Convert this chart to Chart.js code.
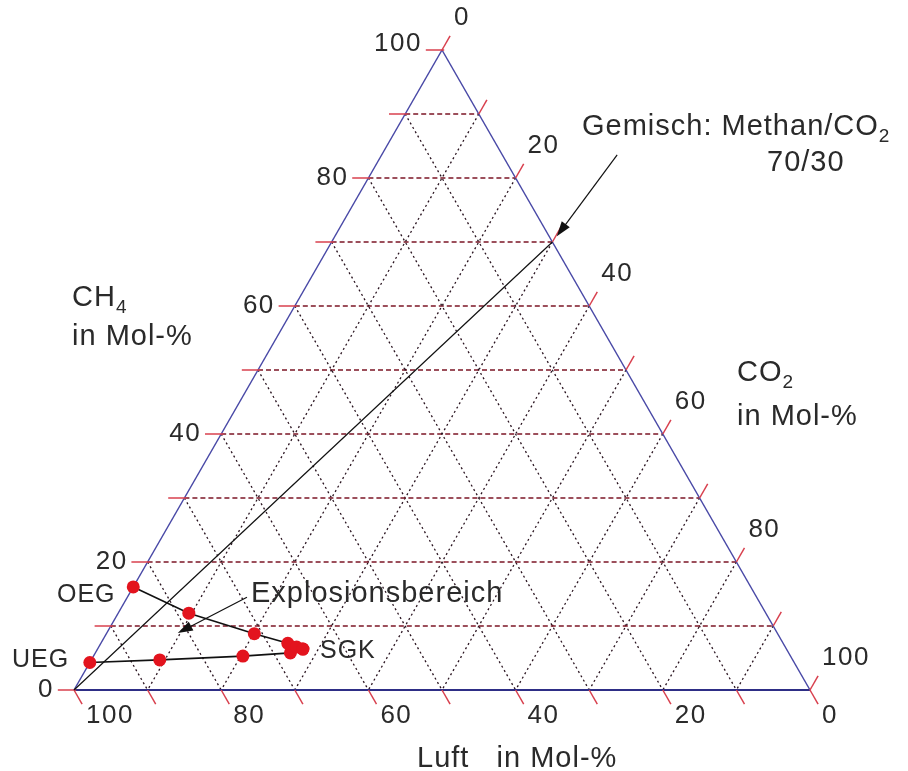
<!DOCTYPE html>
<html>
<head>
<meta charset="utf-8">
<script src="https://cdn.jsdelivr.net/npm/chart.js@4"></script>
<style>
  html, body { margin: 0; padding: 0; background: #fff; }
  #wrap { width: 908px; height: 771px; position: relative; }
</style>
</head>
<body>
<div id="wrap"><canvas id="tern"></canvas></div>
<script>
// Ternary diagram CH4 / CO2 / Luft, drawn on a scatter chart

const tickLevels = [0, 10, 20, 30, 40, 50, 60, 70, 80, 90, 100];
const gridLevels = [10, 20, 30, 40, 50, 60, 70, 80, 90];
const labelLevels = [0, 20, 40, 60, 80, 100];
const ch4TickLabels = ['0', '20', '40', '60', '80', '100'];
const co2TickLabels = ['0', '20', '40', '60', '80', '100'];
const luftTickLabels = ['100', '80', '60', '40', '20', '0'];

// measured mixtures (CH4 %, CO2 %), rest is air
const upperCH4 = [16.1, 12.0, 8.8, 7.3, 6.7, 6.4];
const upperCO2 = [0, 9.6, 20.1, 25.4, 26.9, 27.9];
const lowerCH4 = [4.3, 4.7, 5.3, 5.8, 6.4];
const lowerCO2 = [0, 9.3, 20.3, 26.5, 27.9];
const mixCH4 = [0, 70];
const mixCO2 = [0, 30];

const TICK = 2.2; // tick length in percent units

// (CH4, CO2) -> cartesian, bottom edge 0..100, height 0..100
function tern(c, d) {
  return { x: d + c / 2, y: c };
}

function segment(a, b, color, width, dash, order) {
  return {
    data: [tern(a[0], a[1]), tern(b[0], b[1])],
    showLine: true,
    borderColor: color,
    borderWidth: width,
    borderDash: dash || [],
    pointRadius: 0,
    fill: false,
    clip: false,
    order: order,
  };
}

const datasets = [];

// grid
gridLevels.forEach(v => {
  datasets.push(segment([v, 0], [v, 100 - v], '#7c1626', 1.3, [5, 3], 6));
  datasets.push(segment([100 - v, v], [0, v], '#2a1420', 1.3, [2, 3], 6));
  datasets.push(segment([100 - v, 0], [0, 100 - v], '#2a1420', 1.3, [2, 3], 6));
});

// frame
datasets.push(segment([0, 0], [100, 0], '#4848a6', 1.5, null, 5));
datasets.push(segment([100, 0], [0, 100], '#4848a6', 1.5, null, 5));
datasets.push(segment([0, 0], [0, 100], '#2e2e86', 2, null, 5));

// ticks
tickLevels.forEach(v => {
  datasets.push(segment([v, -TICK], [v, 0.3], '#d8404e', 1.5, null, 4));
  datasets.push(segment([100 - v, v], [100 - v + TICK, v], '#d8404e', 1.5, null, 4));
  datasets.push(segment([0, v], [-TICK, v + TICK], '#d8404e', 1.5, null, 4));
});

// 70/30 mixture line
datasets.push({
  data: mixCH4.map((c, i) => tern(c, mixCO2[i])),
  showLine: true, borderColor: '#111', borderWidth: 1.2,
  pointRadius: 0, clip: false, order: 3,
});

// explosion limits
[[lowerCH4, lowerCO2], [upperCH4, upperCO2]].forEach(([cs, ds], k) => {
  datasets.push({
    data: cs.map((c, i) => tern(c, ds[i])),
    showLine: true,
    borderColor: '#111',
    borderWidth: 1.6,
    pointRadius: 6.5,
    pointBackgroundColor: '#e3141e',
    pointBorderColor: '#e3141e',
    pointBorderWidth: 0,
    clip: false,
    order: 2 - k,
  });
});

const TXT = '#2a2a2a';

function arrow(ctx, x1, y1, x2, y2) {
  const ang = Math.atan2(y2 - y1, x2 - x1);
  const hl = 15, hw = 5;
  ctx.strokeStyle = '#111';
  ctx.fillStyle = '#111';
  ctx.lineWidth = 1.2;
  ctx.beginPath();
  ctx.moveTo(x1, y1);
  ctx.lineTo(x2 - Math.cos(ang) * hl * 0.7, y2 - Math.sin(ang) * hl * 0.7);
  ctx.stroke();
  ctx.beginPath();
  ctx.moveTo(x2, y2);
  ctx.lineTo(x2 - Math.cos(ang) * hl - Math.sin(ang) * hw, y2 - Math.sin(ang) * hl + Math.cos(ang) * hw);
  ctx.lineTo(x2 - Math.cos(ang) * hl + Math.sin(ang) * hw, y2 - Math.sin(ang) * hl - Math.cos(ang) * hw);
  ctx.closePath();
  ctx.fill();
}

function subText(ctx, main, sub, x, y, size) {
  ctx.font = size + 'px "Liberation Sans", Arial, sans-serif';
  ctx.textAlign = 'left';
  ctx.fillText(main, x, y);
  const w = ctx.measureText(main).width;
  ctx.font = Math.round(size * 0.66) + 'px "Liberation Sans", Arial, sans-serif';
  ctx.fillText(sub, x + w, y + 7);
}

const labelPlugin = {
  id: 'ternLabels',
  afterDatasetsDraw(chart) {
    const { ctx, scales } = chart;
    const px = p => ({ x: scales.x.getPixelForValue(p.x), y: scales.y.getPixelForValue(p.y) });
    ctx.save();
    ctx.fillStyle = TXT;
    ctx.letterSpacing = '1.5px';
    ctx.font = '26px "Liberation Sans", Arial, sans-serif';
    ctx.textBaseline = 'middle';

    labelLevels.forEach((v, i) => {
      // CH4, left side
      let p = px(tern(v, 0));
      ctx.textAlign = 'right';
      ctx.fillText(ch4TickLabels[i], p.x - 20, p.y - (v === 100 ? 6 : 0));
      // CO2, right side
      p = px(tern(100 - v, v));
      ctx.textAlign = 'left';
      ctx.fillText(co2TickLabels[i], p.x + 12, p.y - 32);
      // Luft, bottom
      p = px(tern(0, v));
      ctx.fillText(luftTickLabels[i], p.x + 12, p.y + 26);
    });

    ctx.textBaseline = 'alphabetic';
    ctx.letterSpacing = '1px';
    ctx.fillStyle = TXT;
    subText(ctx, 'CH', '4', 72, 306, 29);
    subText(ctx, 'CO', '2', 737, 381, 29);
    ctx.font = '29px "Liberation Sans", Arial, sans-serif';
    ctx.textAlign = 'left';
    ctx.fillText('in Mol-%', 72, 345);
    ctx.fillText('in Mol-%', 737, 425);
    ctx.fillText('Luft   in Mol-%', 417, 767);

    subText(ctx, 'Gemisch: Methan/CO', '2', 582, 135, 29);
    ctx.font = '29px "Liberation Sans", Arial, sans-serif';
    ctx.fillText('70/30', 767, 171);
    ctx.fillText('Explosionsbereich', 251, 602);

    ctx.font = '25px "Liberation Sans", Arial, sans-serif';
    ctx.fillText('OEG', 57, 602);
    ctx.fillText('UEG', 12, 667);
    ctx.fillText('SGK', 320, 658);

    // annotation arrows (positions in chart units)
    const g1 = px({ x: 73.8, y: 83.6 }), g2 = px({ x: 65.6, y: 70.9 });
    arrow(ctx, g1.x, g1.y, g2.x, g2.y);
    const e1 = px({ x: 23.5, y: 14.5 }), e2 = px({ x: 14.1, y: 8.9 });
    arrow(ctx, e1.x, e1.y, e2.x, e2.y);
    ctx.restore();
  },
};

// map chart units to the canvas: bottom-left corner at (74,690), 7.36 px per unit across, 6.4 px up
const X_MIN = -74 / 7.36, X_MAX = X_MIN + 908 / 7.36;
const Y_MIN = -81 / 6.4, Y_MAX = Y_MIN + 771 / 6.4;

new Chart(document.getElementById('tern').getContext('2d'), {
  type: 'scatter',
  data: { datasets },
  options: {
    animation: false,
    responsive: true,
    maintainAspectRatio: false,
    layout: { padding: 0, autoPadding: false },
    plugins: { legend: { display: false }, tooltip: { enabled: false } },
    scales: {
      x: { type: 'linear', min: X_MIN, max: X_MAX, display: false },
      y: { type: 'linear', min: Y_MIN, max: Y_MAX, display: false },
    },
  },
  plugins: [labelPlugin],
});
</script>
</body>
</html>
